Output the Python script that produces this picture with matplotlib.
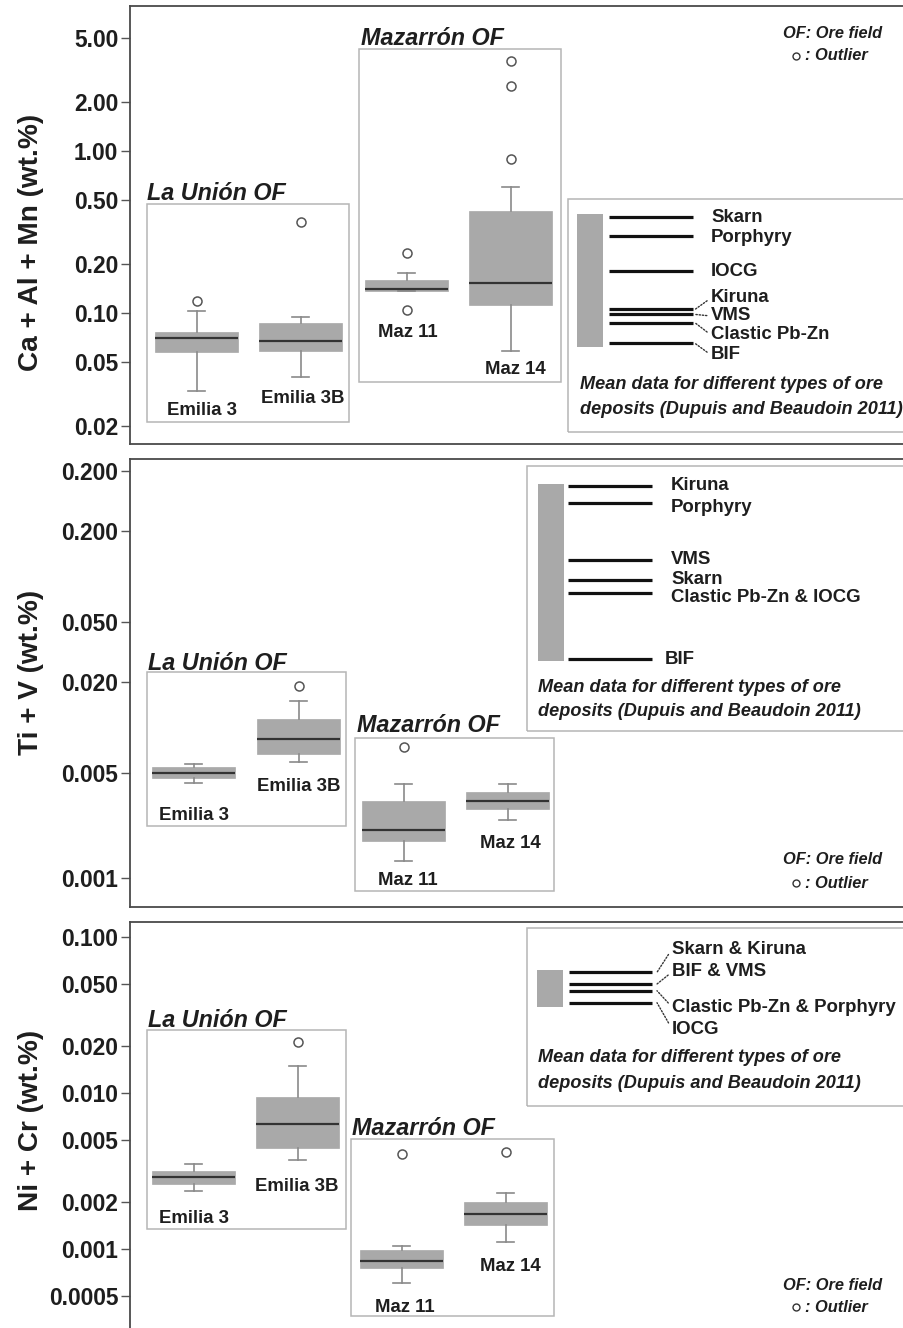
import matplotlib
matplotlib.use('Agg')
import matplotlib.pyplot as plt
from matplotlib import font_manager
from matplotlib.patches import Rectangle
from matplotlib.ticker import NullLocator

# condensed bold look of the original, fall back to normal width if missing
names = {f.name for f in font_manager.fontManager.ttflist}
if 'Liberation Sans Narrow' in names:
    plt.rcParams['font.family'] = ['Liberation Sans Narrow', 'DejaVu Sans']
    k = 1.0
else:
    plt.rcParams['font.family'] = ['Liberation Sans', 'DejaVu Sans']
    k = 0.84
plt.rcParams['font.weight'] = 'bold'

samples = ['Emilia 3', 'Emilia 3B', 'Maz 11', 'Maz 14']

# Ca + Al + Mn (wt.%)
cam_med = [0.070, 0.067, 0.140, 0.152]
cam_q1 = [0.057, 0.058, 0.136, 0.112]
cam_q3 = [0.076, 0.086, 0.159, 0.425]
cam_lo = [0.033, 0.040, 0.136, 0.058]
cam_hi = [0.103, 0.094, 0.175, 0.595]
cam_out = [[0.119], [0.365], [0.233, 0.104], [3.6, 2.52, 0.89]]
cam_ref_names = ['Skarn', 'Porphyry', 'IOCG', 'Kiruna', 'VMS', 'Clastic Pb-Zn', 'BIF']
cam_ref_vals = [0.392, 0.299, 0.181, 0.105, 0.0978, 0.0868, 0.0648]
cam_ref_bar = (0.0617, 0.405)
cam_ticks = [5, 2, 1, 0.5, 0.2, 0.1, 0.05, 0.02]
cam_ticklabels = ['5.00', '2.00', '1.00', '0.50', '0.20', '0.10', '0.05', '0.02']

# Ti + V (wt.%)
tiv_med = [0.0050, 0.0084, 0.0021, 0.00324]
tiv_q1 = [0.00463, 0.00665, 0.00176, 0.00286]
tiv_q3 = [0.00543, 0.0113, 0.00324, 0.00374]
tiv_lo = [0.00429, 0.00589, 0.0013, 0.00243]
tiv_hi = [0.00574, 0.0150, 0.00419, 0.00419]
tiv_out = [[], [0.0187], [0.00744], []]
tiv_ref_names = ['Kiruna', 'Porphyry', 'VMS', 'Skarn', 'Clastic Pb-Zn & IOCG', 'BIF']
tiv_ref_vals = [0.401, 0.307, 0.129, 0.095, 0.0775, 0.0284]
tiv_ref_bar = (0.0277, 0.410)
tiv_ticks = [0.5, 0.2, 0.05, 0.02, 0.005, 0.001]
tiv_ticklabels = ['0.200', '0.200', '0.050', '0.020', '0.005', '0.001']

# Ni + Cr (wt.%)
nicr_med = [0.0029, 0.00636, 0.000842, 0.00167]
nicr_q1 = [0.00262, 0.00447, 0.000755, 0.00142]
nicr_q3 = [0.00318, 0.00939, 0.00099, 0.0020]
nicr_lo = [0.00237, 0.00373, 0.000606, 0.00111]
nicr_hi = [0.00353, 0.01495, 0.00105, 0.00228]
nicr_out = [[], [0.0211], [0.00407], [0.00417]]
nicr_ref_names = ['Skarn & Kiruna', 'BIF & VMS', 'Clastic Pb-Zn & Porphyry', 'IOCG']
nicr_ref_vals = [0.0592, 0.0498, 0.0451, 0.0378]
nicr_ref_bar = (0.0357, 0.0612)
nicr_ticks = [0.1, 0.05, 0.02, 0.01, 0.005, 0.002, 0.001, 0.0005]
nicr_ticklabels = ['0.100', '0.050', '0.020', '0.010', '0.005', '0.002', '0.001', '0.0005']

W, H = 904, 1328
LEFT, RIGHT = 130, 904
GRAY = '#a9a9a9'
DARK = '#1e1e1e'

panels = [
    dict(ylabel='Ca + Al + Mn (wt.%)', med=cam_med, q1=cam_q1, q3=cam_q3, lo=cam_lo, hi=cam_hi,
         out=cam_out, rnames=cam_ref_names, rvals=cam_ref_vals, rbar=cam_ref_bar,
         ticks=cam_ticks, tlabels=cam_ticklabels, ylim=(0.01549, 7.85),
         top=6, bot=444, ylab_y=242,
         pos=[197, 301, 406.7, 510.8],
         slab=[(202, 415), (303, 403), (408, 337), (515, 374)],
         lu_box=(146.7, 204, 349, 422), lu_title=(147, 200),
         mz_box=(359, 49, 561, 381.7), mz_title=(361, 45),
         ref_box=(568.3, 199.3, 432.3), bar_x=(577, 603), line_x=(609, 693),
         lab_x=711, lab_y=[218, 238, 272, 298, 316, 335, 355],
         dots=[False, False, False, True, True, True, True], dot_x=695,
         cap_x=580, cap_y=(385, 410), of_y=(33, 56), hide_bottom=False),
    dict(ylabel='Ti + V (wt.%)', med=tiv_med, q1=tiv_q1, q3=tiv_q3, lo=tiv_lo, hi=tiv_hi,
         out=tiv_out, rnames=tiv_ref_names, rvals=tiv_ref_vals, rbar=tiv_ref_bar,
         ticks=tiv_ticks, tlabels=tiv_ticklabels, ylim=(0.00064, 0.6006),
         top=459.3, bot=907.3, ylab_y=672,
         pos=[194, 299, 404, 508],
         slab=[(194, 820), (299, 790.7), (408, 885), (510, 848)],
         lu_box=(146.7, 672.3, 346, 825.7), lu_title=(148, 670),
         mz_box=(355, 737.7, 554.3, 890.7), mz_title=(357, 732),
         ref_box=(526.7, 466, 730.7), bar_x=(538, 564), line_x=(568, 652),
         lab_x=[671, 671, 671, 671, 671, 665], lab_y=[486, 507, 559, 579, 597, 659],
         dots=[False] * 6, dot_x=655,
         cap_x=538, cap_y=(687, 712), of_y=(860, 883), hide_bottom=False),
    dict(ylabel='Ni + Cr (wt.%)', med=nicr_med, q1=nicr_q1, q3=nicr_q3, lo=nicr_lo, hi=nicr_hi,
         out=nicr_out, rnames=nicr_ref_names, rvals=nicr_ref_vals, rbar=nicr_ref_bar,
         ticks=nicr_ticks, tlabels=nicr_ticklabels, ylim=(0.0003136, 0.1236),
         top=922.3, bot=1328, ylab_y=1120,
         pos=[193.7, 298, 401.7, 506],
         slab=[(194, 1223), (297, 1190.7), (405, 1311.7), (510, 1270.7)],
         lu_box=(146.7, 1030, 346, 1229), lu_title=(148, 1027),
         mz_box=(350.7, 1139, 554.3, 1315.7), mz_title=(352, 1135),
         ref_box=(526.7, 928.3, 1105.7), bar_x=(537, 563), line_x=(569, 652),
         lab_x=672, lab_y=[949, 972, 1007, 1029],
         dots=[True] * 4, dot_x=657,
         cap_x=538, cap_y=(1058, 1083), of_y=(1285, 1307), hide_bottom=True),
]

fig = plt.figure(figsize=(W / 100, H / 100), dpi=100)

for p in panels:
    top, bot = p['top'], p['bot']

    def fr(x, y):
        return (x - LEFT) / (RIGHT - LEFT), (bot - y) / (bot - top)

    ax = fig.add_axes([LEFT / W, 1 - bot / H, (RIGHT - LEFT) / W, (bot - top) / H])
    ax.set_yscale('log')
    ax.set_ylim(*p['ylim'])
    ax.set_xlim(LEFT, RIGHT)
    ax.set_xticks([])
    ax.set_yticks(p['ticks'])
    ax.set_yticklabels(p['tlabels'])
    ax.yaxis.set_minor_locator(NullLocator())
    ax.tick_params(axis='y', length=6.5, width=1, color='#555555', pad=2,
                   labelsize=19.5 * k, labelcolor=DARK)
    ax.spines['right'].set_visible(False)
    if p['hide_bottom']:
        ax.spines['bottom'].set_visible(False)
    for s in ['left', 'top', 'bottom']:
        ax.spines[s].set_color('#4a4a4a')
        ax.spines[s].set_linewidth(1.3)
    ax.set_ylabel(p['ylabel'], fontsize=24 * k, color=DARK, fontweight='bold')
    ax.yaxis.set_label_coords((44 - LEFT) / (RIGHT - LEFT), fr(0, p['ylab_y'])[1])

    # ore field frames
    for (x0, y0, x1, y1) in [p['lu_box'], p['mz_box']]:
        a, b = fr(x0, y1)
        c, d = fr(x1, y0)
        ax.add_patch(Rectangle((a, b), c - a, d - b, transform=ax.transAxes,
                               fill=False, edgecolor='#b5b5b5', lw=1.1, zorder=1))
    ax.text(*fr(*p['lu_title']), 'La Unión OF', transform=ax.transAxes, style='italic',
            fontsize=20 * k, color=DARK, va='baseline', ha='left')
    ax.text(*fr(*p['mz_title']), 'Mazarrón OF', transform=ax.transAxes, style='italic',
            fontsize=20 * k, color=DARK, va='baseline', ha='left')

    # boxplots
    stats = []
    for i in range(4):
        stats.append(dict(med=p['med'][i], q1=p['q1'][i], q3=p['q3'][i],
                          whislo=p['lo'][i], whishi=p['hi'][i], fliers=p['out'][i]))
    ax.bxp(stats, positions=p['pos'], widths=83, capwidths=17, patch_artist=True,
           manage_ticks=False,
           boxprops=dict(facecolor=GRAY, edgecolor=GRAY, linewidth=0.5),
           medianprops=dict(color='#333333', linewidth=1.6),
           whiskerprops=dict(color='#8a8a8a', linewidth=1.2),
           capprops=dict(color='#8a8a8a', linewidth=1.2),
           flierprops=dict(marker='o', markerfacecolor='white', markeredgecolor='#555555',
                           markersize=6.5, markeredgewidth=1.1))
    for name, (x, y) in zip(samples, p['slab']):
        ax.text(*fr(x, y), name, transform=ax.transAxes, ha='center', va='baseline',
                fontsize=16 * k, color=DARK)

    # mean data of ore deposit types
    x0, y0, y1 = p['ref_box']
    a, b = fr(x0, y1)
    c, d = fr(RIGHT + 20, y0)
    ax.add_patch(Rectangle((a, b), c - a, d - b, transform=ax.transAxes, fill=False,
                           edgecolor='#b5b5b5', lw=1.1, zorder=1))
    bx0, bx1 = p['bar_x']
    ax.add_patch(Rectangle((bx0, p['rbar'][0]), bx1 - bx0, p['rbar'][1] - p['rbar'][0],
                           facecolor=GRAY, edgecolor='none', zorder=2))
    lx0, lx1 = p['line_x']
    ax.hlines(p['rvals'], lx0, lx1, color='#111111', lw=2.3, zorder=3)
    lab_x = p['lab_x'] if isinstance(p['lab_x'], list) else [p['lab_x']] * len(p['rnames'])
    for name, v, tx, ty, dot in zip(p['rnames'], p['rvals'], lab_x, p['lab_y'], p['dots']):
        if dot:
            ax.annotate(name, xy=(p['dot_x'], v), xycoords='data', xytext=fr(tx, ty),
                        textcoords='axes fraction', ha='left', va='center',
                        fontsize=16 * k, color=DARK,
                        arrowprops=dict(arrowstyle='-', linestyle=(0, (1, 1.3)), lw=1,
                                        color='#333333', shrinkA=1, shrinkB=0,
                                        relpos=(0, 0.5)))
        else:
            ax.text(*fr(tx, ty), name, transform=ax.transAxes, ha='left', va='center',
                    fontsize=16 * k, color=DARK)
    ax.text(*fr(p['cap_x'], p['cap_y'][0]), 'Mean data for different types of ore',
            transform=ax.transAxes, style='italic', ha='left', va='center',
            fontsize=15.5 * k, color=DARK)
    ax.text(*fr(p['cap_x'], p['cap_y'][1]), 'deposits (Dupuis and Beaudoin 2011)',
            transform=ax.transAxes, style='italic', ha='left', va='center',
            fontsize=15.5 * k, color=DARK)

    # key
    ax.text(*fr(882, p['of_y'][0]), 'OF: Ore field', transform=ax.transAxes, style='italic',
            ha='right', va='center', fontsize=14 * k, color=DARK)
    ax.plot(*fr(796, p['of_y'][1]), marker='o', markersize=5, markerfacecolor='white',
            markeredgecolor='#333333', markeredgewidth=1, transform=ax.transAxes)
    ax.text(*fr(805, p['of_y'][1]), ': Outlier', transform=ax.transAxes, style='italic',
            ha='left', va='center', fontsize=14 * k, color=DARK)

fig.savefig('out.png', dpi=100)
